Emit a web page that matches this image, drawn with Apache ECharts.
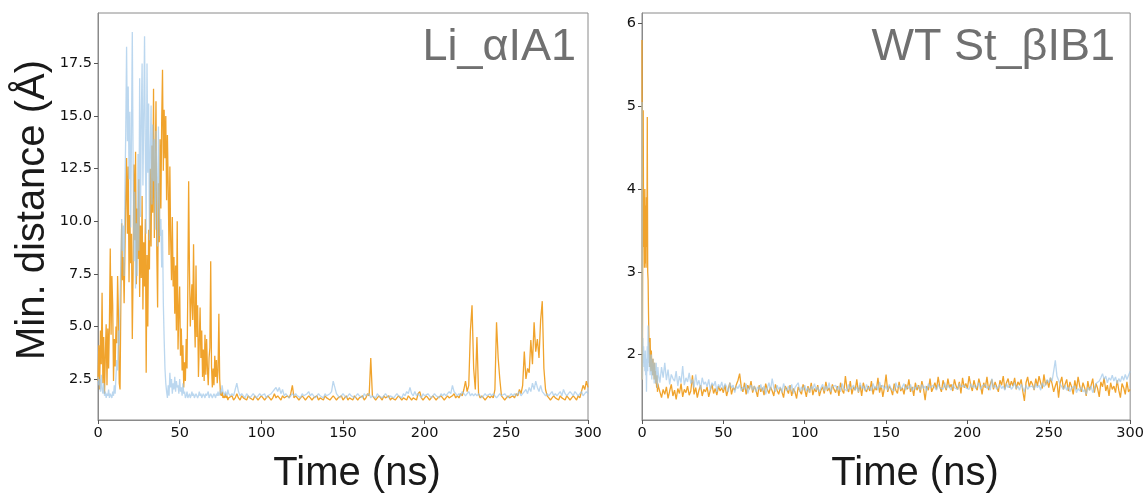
<!DOCTYPE html>
<html>
<head>
<meta charset="utf-8">
<script src="https://cdn.jsdelivr.net/npm/echarts@6.0.0/dist/echarts.min.js"></script>
<style>
  html, body { margin: 0; padding: 0; background: #ffffff; }
  #chart { width: 1147px; height: 497px; }
</style>
</head>
<body>
<div id="chart"></div>
<script>
// ---- Li_αIA1: minimum distance (Å) vs time (ns) ----
// 0–80 ns sampled every 0.5 ns
const liEarlyOrange = [
  2.4,4.1,2.0,4.8,3.2,6.6,2.3,4.5,1.8,3.6,
  5.1,2.2,4.9,3.0,5.2,8.7,4.6,7.4,6.0,2.4,
  4.4,3.1,5.0,4.2,7.4,5.6,2.3,2.0,6.3,9.9,
  7.2,8.3,6.1,8.6,11.2,13.0,9.4,12.6,7.1,10.3,
  8.0,9.4,4.4,7.6,12.7,9.1,13.3,7.0,10.6,8.2,
  12.0,6.4,9.8,7.3,11.2,5.8,9.0,6.9,10.1,2.8,
  8.4,5.0,9.6,7.7,12.5,8.8,13.6,10.4,16.3,9.2,
  12.1,15.7,8.5,5.9,11.8,9.0,13.9,10.6,14.8,17.2,
  12.4,15.3,13.0,15.0,11.0,14.1,11.5,8.4,12.6,9.1,
  7.2,10.2,6.9,8.3,5.6,7.9,4.8,10.0,3.9,5.7,
  6.9,3.6,4.9,2.9,4.1,2.1,3.3,2.4,4.4,3.0,
  6.9,11.9,7.7,5.0,6.2,7.0,5.3,8.9,5.6,4.0,
  7.9,4.5,6.0,2.6,4.2,5.9,3.5,4.8,2.6,3.9,
  2.4,4.6,2.7,4.4,3.0,2.2,3.5,4.0,8.1,3.1,
  2.1,3.0,2.2,3.6,2.6,3.4,2.3,2.9,5.6,2.5,
  1.8,1.7,1.9,1.6,1.7,1.6,1.8,1.6,1.7,1.5,
  1.6
];
const liEarlyBlue = [
  2.6,2.2,2.5,1.9,2.7,2.0,1.8,2.3,1.7,1.9,
  1.6,1.8,1.7,2.0,1.6,1.8,1.7,1.6,1.9,1.7,
  2.2,1.8,2.6,3.4,2.9,4.8,4.1,6.3,8.0,10.1,
  8.6,9.8,7.4,11.5,14.3,18.3,13.8,16.4,12.0,15.2,
  9.7,14.1,19.0,12.6,8.1,11.4,6.8,9.9,7.4,13.2,
  8.6,16.8,10.2,14.8,17.5,11.7,15.0,18.8,13.1,9.4,
  17.5,12.3,15.6,9.1,13.4,15.5,10.8,14.6,11.9,13.9,
  9.6,14.3,12.0,8.8,14.5,11.2,9.3,10.1,7.8,9.6,
  6.1,4.4,3.0,2.3,1.9,1.6,2.2,1.7,2.8,2.1,
  2.5,1.8,2.3,2.0,2.6,1.9,2.4,2.1,2.2,1.8,
  2.5,1.9,2.1,1.7,2.3,1.8,1.9,1.6,1.7,1.9,
  1.6,1.7,1.8,1.6,1.7,1.9,1.7,1.8,1.6,1.7,
  1.8,1.7,1.6,1.7,1.9,1.7,1.8,1.6,1.7,1.8,
  1.7,1.6,1.8,1.7,1.7,1.9,1.6,1.7,1.8,1.7,
  1.6,1.7,1.8,1.7,1.6,1.8,1.7,1.9,1.7,1.8,
  2.0,1.8,2.2,1.9,1.8,1.7,1.9,1.8,1.7,2.0,
  1.8
];
// 81–300 ns sampled every 1 ns
const liLateOrange = [
  1.6,1.7,1.5,1.6,1.8,1.6,1.5,1.7,1.6,1.6,
  1.5,1.7,1.6,1.6,1.5,1.7,1.6,1.5,1.6,1.7,
  1.6,1.5,1.6,1.7,1.6,1.5,1.6,1.8,1.6,1.7,
  1.6,1.5,1.7,1.6,1.6,1.7,1.6,1.8,2.2,1.6,
  1.7,1.6,1.5,1.6,1.7,1.6,1.5,1.6,1.7,1.6,
  1.5,1.6,1.6,1.7,1.5,1.6,1.6,1.5,1.7,1.6,
  1.6,1.5,1.6,1.7,1.6,1.5,1.6,1.6,1.7,1.5,
  1.6,1.7,1.5,1.6,1.6,1.5,1.7,1.6,1.5,1.6,
  1.6,1.7,1.5,1.6,1.8,1.7,3.5,1.7,1.6,1.5,
  1.6,1.7,1.6,1.5,1.7,1.6,1.6,1.7,1.5,1.6,
  1.6,1.5,1.6,1.7,1.6,1.5,1.6,1.6,1.5,1.7,
  1.6,1.5,1.6,1.6,1.5,1.8,1.9,1.6,1.5,1.6,
  1.7,1.6,1.5,1.6,1.7,1.6,1.5,1.6,1.6,1.7,
  1.6,1.5,1.6,1.7,1.6,1.6,1.7,1.8,1.6,1.7,
  1.6,1.8,1.7,2.0,2.4,1.9,2.2,4.8,6.0,3.0,
  2.0,4.5,1.8,1.6,1.7,1.6,1.5,1.6,1.7,1.6,
  1.7,1.6,2.0,5.2,3.5,2.5,1.7,1.6,1.5,1.6,
  1.7,1.6,1.6,1.7,1.6,1.8,1.7,2.0,1.8,2.2,
  3.8,2.5,3.0,2.8,4.35,3.2,5.2,3.8,4.4,3.5,
  5.3,6.2,3.0,2.0,1.7,1.6,1.5,1.6,1.7,1.6,
  1.6,1.5,1.7,1.6,1.6,1.5,1.7,1.6,1.5,1.6,
  1.7,1.6,1.5,1.7,1.6,1.9,2.2,2.0,2.4,2.1
];
const liLateBlue = [
  1.7,1.8,1.7,2.0,2.3,1.9,1.7,1.8,1.7,1.6,
  1.8,1.7,1.6,1.7,1.8,1.7,1.6,1.7,1.8,1.7,
  1.7,1.8,1.6,1.7,1.7,1.8,1.9,2.0,2.1,1.9,
  2.1,1.8,2.0,1.7,1.8,1.7,1.6,1.7,1.8,1.7,
  1.8,1.7,1.7,1.6,1.8,1.7,1.7,1.8,1.9,1.7,
  1.8,1.7,1.6,1.7,1.8,1.7,1.7,1.6,1.8,1.7,
  1.7,1.8,1.9,2.4,2.1,1.8,1.7,1.6,1.7,1.8,
  1.7,1.6,1.7,1.8,1.7,1.7,1.6,1.7,1.8,1.7,
  1.7,1.6,1.8,1.7,1.7,1.8,1.6,1.7,1.7,1.6,
  1.8,1.7,1.7,1.6,1.7,1.8,1.7,1.6,1.7,1.7,
  1.6,1.7,1.8,1.7,1.7,1.6,1.8,1.7,1.9,1.8,
  2.1,1.8,1.7,1.9,1.7,1.8,1.7,1.6,1.8,1.7,
  1.7,1.8,1.7,1.6,1.7,1.8,1.7,1.7,1.6,1.8,
  1.7,1.8,1.7,1.8,1.9,1.8,2.2,1.9,1.8,1.7,
  1.8,1.7,1.9,1.8,1.7,1.8,1.9,1.7,1.8,1.7,
  1.8,1.7,1.8,1.7,1.6,1.7,1.8,1.7,1.7,1.8,
  1.7,1.8,1.7,1.6,1.7,1.8,1.7,1.7,1.8,1.7,
  1.6,1.7,1.8,1.7,1.8,1.7,1.8,1.9,1.7,1.8,
  1.9,2.0,1.8,2.1,1.9,2.3,2.0,2.4,2.1,1.9,
  2.2,1.9,1.8,1.7,1.8,1.7,1.8,1.9,1.7,1.8,
  1.7,1.8,1.9,1.7,2.0,1.8,1.7,1.8,1.9,1.8,
  1.7,1.9,1.8,1.7,1.8,1.9,1.7,1.8,1.9,1.8
];

// ---- WT St_βIB1 ----
// 0–9.75 ns sampled every 0.25 ns
const wtEarlyOrange = [
  5.8,1.7,3.7,4.95,3.3,3.9,3.05,4.0,3.1,3.8,
  3.05,3.9,3.3,4.87,3.0,2.9,2.5,2.2,2.0,1.85,
  2.2,1.9,1.8,2.05,1.85,1.9,1.75,1.95,1.8,1.85,
  1.7,1.9,1.75,1.8,1.65,1.7,1.6,1.75,1.55,1.65
];
const wtEarlyBlue = [
  5.05,1.7,2.2,1.9,2.1,1.85,2.0,1.8,2.05,1.75,
  1.95,1.55,1.9,2.1,1.8,2.35,1.9,2.15,1.85,2.0,
  1.75,1.95,1.8,2.0,1.7,1.9,1.75,1.95,1.8,1.85,
  1.65,1.9,1.7,1.8,1.65,1.9,1.7,1.75,1.6,1.85
];
// 10–300 ns sampled every 1 ns
const wtLateOrange = [
  1.62,1.55,1.48,1.58,1.52,1.61,1.47,1.56,1.64,1.50,
  1.57,1.46,1.59,1.53,1.65,1.49,1.58,1.54,1.62,1.51,
  1.56,1.75,1.52,1.60,1.48,1.57,1.63,1.50,1.58,1.55,
  1.61,1.49,1.57,1.64,1.53,1.59,1.51,1.62,1.56,1.60,
  1.54,1.63,1.50,1.58,1.66,1.52,1.60,1.57,1.64,1.69,
  1.77,1.61,1.55,1.66,1.52,1.63,1.58,1.68,1.54,1.62,
  1.57,1.49,1.63,1.55,1.60,1.51,1.65,1.58,1.53,1.61,
  1.56,1.50,1.64,1.57,1.52,1.60,1.55,1.48,1.62,1.58,
  1.53,1.63,1.50,1.59,1.55,1.47,1.61,1.56,1.52,1.64,
  1.58,1.49,1.62,1.54,1.66,1.51,1.59,1.55,1.63,1.50,
  1.57,1.61,1.53,1.67,1.56,1.60,1.52,1.64,1.58,1.54,
  1.62,1.50,1.66,1.57,1.53,1.74,1.59,1.55,1.68,1.52,
  1.61,1.57,1.70,1.54,1.63,1.50,1.66,1.58,1.55,1.62,
  1.56,1.68,1.52,1.61,1.57,1.72,1.54,1.63,1.49,1.60,
  1.76,1.55,1.62,1.58,1.51,1.65,1.57,1.53,1.67,1.56,
  1.60,1.52,1.64,1.58,1.70,1.55,1.61,1.50,1.66,1.57,
  1.63,1.54,1.68,1.59,1.45,1.62,1.57,1.71,1.55,1.60,
  1.66,1.58,1.73,1.61,1.55,1.69,1.62,1.57,1.71,1.60,
  1.64,1.56,1.70,1.62,1.58,1.67,1.53,1.72,1.60,1.65,
  1.59,1.74,1.63,1.56,1.69,1.61,1.57,1.71,1.63,1.52,
  1.66,1.60,1.73,1.57,1.64,1.70,1.58,1.67,1.61,1.55,
  1.69,1.63,1.74,1.58,1.66,1.71,1.60,1.68,1.62,1.72,
  1.58,1.67,1.63,1.70,1.56,1.44,1.66,1.73,1.61,1.68,
  1.64,1.57,1.71,1.62,1.74,1.66,1.59,1.76,1.63,1.69,
  1.60,1.72,1.65,1.55,1.62,1.68,1.48,1.66,1.73,1.58,
  1.64,1.70,1.56,1.67,1.61,1.52,1.69,1.58,1.73,1.62,
  1.55,1.66,1.60,1.50,1.68,1.57,1.63,1.71,1.54,1.65,
  1.59,1.49,1.67,1.61,1.72,1.56,1.63,1.50,1.66,1.58,
  1.62,1.54,1.69,1.57,1.48,1.65,1.60,1.52,1.67,1.55,
  1.58
];
const wtLateBlue = [
  1.78,1.66,1.85,1.72,1.90,1.69,1.82,1.64,1.76,1.71,
  1.68,1.80,1.62,1.74,1.66,1.86,1.63,1.72,1.67,1.78,
  1.65,1.70,1.60,1.76,1.63,1.69,1.58,1.72,1.64,1.67,
  1.61,1.70,1.57,1.66,1.62,1.68,1.55,1.64,1.60,1.67,
  1.58,1.65,1.61,1.55,1.66,1.60,1.63,1.54,1.62,1.59,
  1.64,1.56,1.61,1.58,1.65,1.53,1.60,1.63,1.57,1.62,
  1.55,1.61,1.58,1.64,1.56,1.62,1.52,1.59,1.66,1.57,
  1.71,1.60,1.55,1.63,1.58,1.61,1.54,1.65,1.59,1.56,
  1.62,1.57,1.64,1.53,1.60,1.58,1.66,1.55,1.61,1.57,
  1.63,1.56,1.60,1.54,1.62,1.58,1.65,1.57,1.61,1.55,
  1.60,1.64,1.56,1.62,1.58,1.66,1.55,1.61,1.59,1.63,
  1.57,1.62,1.55,1.65,1.59,1.61,1.56,1.64,1.58,1.60,
  1.63,1.57,1.61,1.55,1.66,1.59,1.62,1.56,1.64,1.58,
  1.61,1.56,1.65,1.59,1.62,1.57,1.67,1.60,1.63,1.58,
  1.62,1.57,1.64,1.59,1.61,1.56,1.66,1.60,1.63,1.58,
  1.61,1.65,1.57,1.62,1.59,1.64,1.56,1.61,1.58,1.63,
  1.60,1.57,1.64,1.59,1.62,1.56,1.65,1.60,1.58,1.63,
  1.61,1.57,1.64,1.60,1.62,1.58,1.66,1.59,1.63,1.61,
  1.57,1.64,1.60,1.62,1.58,1.65,1.61,1.59,1.63,1.60,
  1.62,1.58,1.65,1.60,1.63,1.59,1.61,1.66,1.58,1.62,
  1.60,1.64,1.59,1.62,1.57,1.71,1.60,1.63,1.58,1.61,
  1.64,1.59,1.62,1.57,1.65,1.60,1.63,1.58,1.61,1.66,
  1.59,1.62,1.57,1.64,1.60,1.55,1.63,1.58,1.61,1.59,
  1.62,1.58,1.65,1.60,1.63,1.57,1.66,1.61,1.64,1.70,
  1.66,1.72,1.68,1.80,1.93,1.74,1.69,1.64,1.61,1.58,
  1.63,1.57,1.61,1.55,1.60,1.58,1.62,1.54,1.59,1.56,
  1.61,1.55,1.58,1.52,1.60,1.57,1.62,1.54,1.59,1.65,
  1.63,1.68,1.72,1.77,1.70,1.74,1.66,1.72,1.69,1.75,
  1.68,1.73,1.65,1.71,1.67,1.74,1.69,1.76,1.70,1.72,
  1.80
];

// Tick positions
const timeTicks = [0, 50, 100, 150, 200, 250, 300];
const liYTicks = [2.5, 5.0, 7.5, 10.0, 12.5, 15.0, 17.5];
const wtYTicks = [2, 3, 4, 5, 6];

// Sampling grids (ns) for each segment
function stepTimes(n, start, step) {
  const t = [];
  for (let i = 0; i < n; i++) t.push(start + i * step);
  return t;
}
function toPairs(times, values) {
  return values.map((v, i) => [times[i], v]);
}
const liTimes = stepTimes(liEarlyOrange.length, 0, 0.5)
  .concat(stepTimes(liLateOrange.length, 81, 1));
const wtTimes = stepTimes(wtEarlyOrange.length, 0, 0.25)
  .concat(stepTimes(wtLateOrange.length, 10, 1));

const liOrange = toPairs(liTimes, liEarlyOrange.concat(liLateOrange));
const liBlue = toPairs(liTimes, liEarlyBlue.concat(liLateBlue));
const wtOrange = toPairs(wtTimes, wtEarlyOrange.concat(wtLateOrange));
const wtBlue = toPairs(wtTimes, wtEarlyBlue.concat(wtLateBlue));

const ORANGE = '#f0a32c';
const BLUE = '#9ec6e8';
const FRAME = '#8a8a8a';
const TICK_FONT = 'DejaVu Sans';
const TITLE_FONT = 'Liberation Sans';

function xAxisCfg(gridIndex) {
  return {
    gridIndex, type: 'value', min: 0, max: 300, interval: 50,
    axisLine: { show: true, lineStyle: { color: FRAME, width: 1 } },
    axisTick: { show: true, length: 4, customValues: timeTicks, lineStyle: { color: '#555' } },
    axisLabel: { color: '#111', fontFamily: TICK_FONT, fontSize: 14.5, margin: 6,
                 customValues: timeTicks },
    splitLine: { show: false }
  };
}
function yAxisCfg(gridIndex, min, max, ticks, fmt) {
  return {
    gridIndex, type: 'value', min, max,
    axisLine: { show: true, lineStyle: { color: FRAME, width: 1 } },
    axisTick: { show: true, length: 4, customValues: ticks, lineStyle: { color: '#555' } },
    axisLabel: { color: '#111', fontFamily: TICK_FONT, fontSize: 14.5, margin: 6,
                 customValues: ticks, formatter: fmt },
    splitLine: { show: false }
  };
}
function lineSeries(xi, data, color, opacity, z) {
  return {
    type: 'line', xAxisIndex: xi, yAxisIndex: xi, data,
    showSymbol: false, symbol: 'none', z,
    lineStyle: { color, width: 1.3, opacity },
    emphasis: { disabled: true },
    animation: false, silent: true
  };
}

const chart = echarts.init(document.getElementById('chart'), null, { renderer: 'canvas' });
chart.setOption({
  animation: false,
  backgroundColor: '#ffffff',
  grid: [
    { left: 98, right: 559, top: 13, bottom: 77, show: true, borderColor: FRAME, borderWidth: 1 },
    { left: 642, right: 16, top: 13, bottom: 77, show: true, borderColor: FRAME, borderWidth: 1 }
  ],
  xAxis: [xAxisCfg(0), xAxisCfg(1)],
  yAxis: [
    yAxisCfg(0, 0.55, 19.9, liYTicks, v => v.toFixed(1)),
    yAxisCfg(1, 1.21, 6.125, wtYTicks, v => String(v))
  ],
  series: [
    lineSeries(0, liOrange, ORANGE, 1, 2),
    lineSeries(0, liBlue, BLUE, 0.7, 3),
    lineSeries(1, wtOrange, ORANGE, 1, 2),
    lineSeries(1, wtBlue, BLUE, 0.7, 3)
  ],
  graphic: [
    { type: 'text', x: 33, y: 210, rotation: Math.PI / 2,
      style: { text: 'Min. distance (Å)', font: '40px "' + TITLE_FONT + '"', fill: '#1a1a1a',
               textAlign: 'center', textVerticalAlign: 'middle' } },
    { type: 'text', x: 357, y: 474,
      style: { text: 'Time (ns)', font: '40px "' + TITLE_FONT + '"', fill: '#1a1a1a',
               textAlign: 'center', textVerticalAlign: 'middle' } },
    { type: 'text', x: 915, y: 474,
      style: { text: 'Time (ns)', font: '40px "' + TITLE_FONT + '"', fill: '#1a1a1a',
               textAlign: 'center', textVerticalAlign: 'middle' } },
    { type: 'text', x: 576, y: 48,
      style: { text: 'Li_αIA1', font: '45px "' + TITLE_FONT + '"', fill: '#707070',
               textAlign: 'right', textVerticalAlign: 'middle' } },
    { type: 'text', x: 1115, y: 48,
      style: { text: 'WT St_βIB1', font: '45px "' + TITLE_FONT + '"', fill: '#707070',
               textAlign: 'right', textVerticalAlign: 'middle' } }
  ]
});
</script>
</body>
</html>
